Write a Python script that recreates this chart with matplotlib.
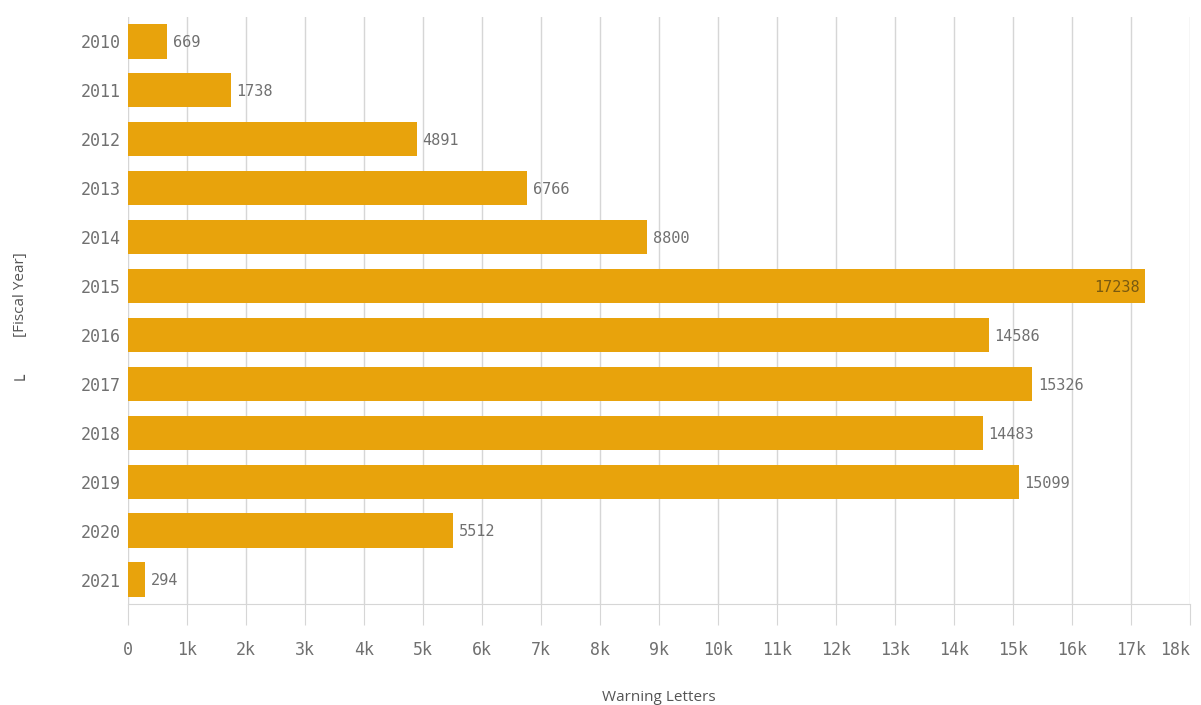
import matplotlib.pyplot as plt

years = ["2010", "2011", "2012", "2013", "2014", "2015",
         "2016", "2017", "2018", "2019", "2020", "2021"]
letters = [669, 1738, 4891, 6766, 8800, 17238,
           14586, 15326, 14483, 15099, 5512, 294]
xticks = list(range(0, 18001, 1000))
xtick_labels = ["0"] + [f"{k}k" for k in range(1, 19)]

bar_color = "#e8a30c"
text_color = "#707070"
grid_color = "#d6d6d6"
mono = "DejaVu Sans Mono"

fig = plt.figure(figsize=(12.01, 7.05), dpi=100)
ax = fig.add_axes([0.1066, 0.1433, 0.8843, 0.8327])

pos = list(range(len(years)))
ax.barh(pos, letters, height=0.7, color=bar_color, zorder=3)
ax.set_ylim(len(years) - 0.5, -0.5)
ax.set_xlim(0, 18000)

ax.set_yticks(pos)
ax.set_yticklabels(years, fontsize=12, color=text_color, family=mono)
ax.set_xticks(xticks)
ax.set_xticklabels(xtick_labels, fontsize=12, color=text_color, family=mono)
ax.tick_params(axis="y", length=0, pad=5)
ax.tick_params(axis="x", length=15, color=grid_color, pad=12)
# keep the last tick label inside the figure
ax.get_xticklabels()[-1].set_horizontalalignment("right")

ax.grid(axis="x", color=grid_color, linewidth=1, zorder=0)
for side in ["top", "right", "left"]:
    ax.spines[side].set_visible(False)
ax.spines["bottom"].set_color(grid_color)

# value labels; the longest bar gets its label inside
vmax = max(letters)
for p, v in zip(pos, letters):
    if v == vmax:
        ax.annotate(str(v), (v, p), xytext=(-4, -1), textcoords="offset points",
                    ha="right", va="center", fontsize=11, color="#7a5a10", family=mono)
    else:
        ax.annotate(str(v), (v, p), xytext=(4, -1), textcoords="offset points",
                    ha="left", va="center", fontsize=11, color=text_color, family=mono)

ax.set_xlabel("Warning Letters", fontsize=11, color="#555555", family="Open Sans", labelpad=22)
fig.text(0.017, 0.582, "[Fiscal Year]", rotation=90, fontsize=11, color="#555555",
         family="Open Sans", ha="center", va="center")
fig.text(0.018, 0.468, "\u2514", rotation=90, fontsize=12, color="#555555",
         family="DejaVu Sans", ha="center", va="center")

fig.savefig("out.png", dpi=100, facecolor="white")
